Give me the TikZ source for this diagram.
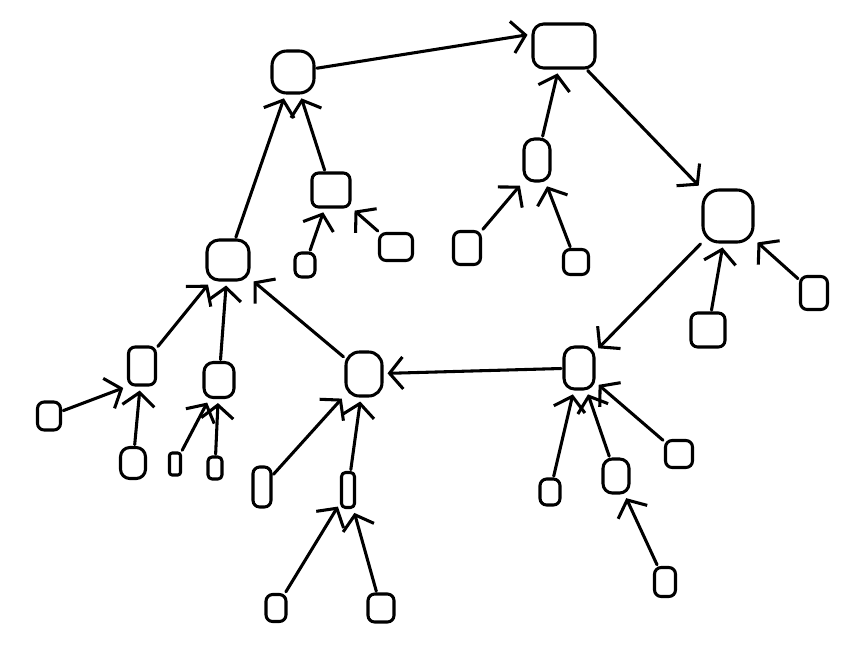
\documentclass[tikz,border=0pt]{standalone}
\usetikzlibrary{arrows.meta}
\begin{document}
\begin{tikzpicture}[x=0.75pt,y=-0.75pt,
  every path/.style={line width=2.3pt, line cap=round, line join=round},
  nd/.style 2 args={draw, line width=2.3pt, rectangle, rounded corners=5pt, inner sep=0pt,
     minimum width=#1*0.75pt, minimum height=#2*0.75pt},
  arr/.style={-{Straight Barb[length=10pt,width=24pt,line width=2.3pt]}, shorten >=3pt, shorten <=1pt}]
\useasboundingbox (0,0) rectangle (862,665);
% nodes
\node[nd={42}{42}, rounded corners=11pt] (A) at (293,72) {};
\node[nd={62}{44}, rounded corners=8pt] (B) at (564,46) {};
\node[nd={38}{34}] (C) at (331,190) {};
\node[nd={33}{27}] (D) at (396,247) {};
\node[nd={20}{24}] (E) at (305,265) {};
\node[nd={26}{42}, rounded corners=8pt] (F) at (537,160) {};
\node[nd={27}{33}] (G) at (467,248) {};
\node[nd={25}{25}] (H) at (576,262) {};
\node[nd={50}{52}, rounded corners=12pt] (I) at (728,216) {};
\node[nd={27}{33}] (J) at (814,293) {};
\node[nd={34}{34}] (K) at (708,330) {};
\node[nd={42}{40}, rounded corners=9pt] (L) at (228,260) {};
\node[nd={27}{38}] (M) at (142,366) {};
\node[nd={23}{28}] (N) at (49,416) {};
\node[nd={25}{31}, rounded corners=7pt] (O) at (133,463) {};
\node[nd={30}{35}, rounded corners=7pt] (P) at (219,380) {};
\node[nd={11}{22}, rounded corners=2pt] (Q) at (175,464) {};
\node[nd={14}{22}, rounded corners=3pt] (R) at (215,468) {};
\node[nd={36}{44}, rounded corners=10pt] (S) at (364,374) {};
\node[nd={18}{40}] (T) at (262,487) {};
\node[nd={13}{35}, rounded corners=3pt] (U) at (348,490) {};
\node[nd={20}{27}] (V) at (276,608) {};
\node[nd={26}{28}] (W) at (381,608) {};
\node[nd={30}{42}, rounded corners=8pt] (X) at (579,368) {};
\node[nd={20}{26}] (Y) at (550,492) {};
\node[nd={27}{27}] (Z) at (679,454) {};
\node[nd={26}{34}, rounded corners=7pt] (AA) at (616,476) {};
\node[nd={21}{29}] (AB) at (665,582) {};
% edges (child -> parent)
\draw[arr] (A) -- (B.160);
\draw[arr] (C) -- (A);
\draw[arr] (L) -- (A);
\draw[arr] (F) -- (B);
\draw[arr] (H) -- (F);
\draw[arr] (G) -- (F.south west);
\draw[arr] (B) -- (I);
\draw[arr] (J) -- (I);
\draw[arr] (K) -- (I);
\draw[arr] (I) -- (X);
\draw[arr] (X) -- (S);
\draw[arr] (Y) -- (X);
\draw[arr] (Z) -- (X);
\draw[arr] (AA) -- (X);
\draw[arr] (AB) -- (AA);
\draw[arr] (E) -- (C);
\draw[arr] (D) -- (C);
\draw[arr] (M) -- (L);
\draw[arr] (P) -- (L);
\draw[arr] (S) -- (L);
\draw[arr] (N) -- (M.south west);
\draw[arr] (O) -- (M);
\draw[arr] (Q) -- (P);
\draw[arr] (R) -- (P);
\draw[arr] (T) -- (S);
\draw[arr] (U) -- (S);
\draw[arr] (V) -- (U);
\draw[arr] (W) -- (U);
\end{tikzpicture}
\end{document}
